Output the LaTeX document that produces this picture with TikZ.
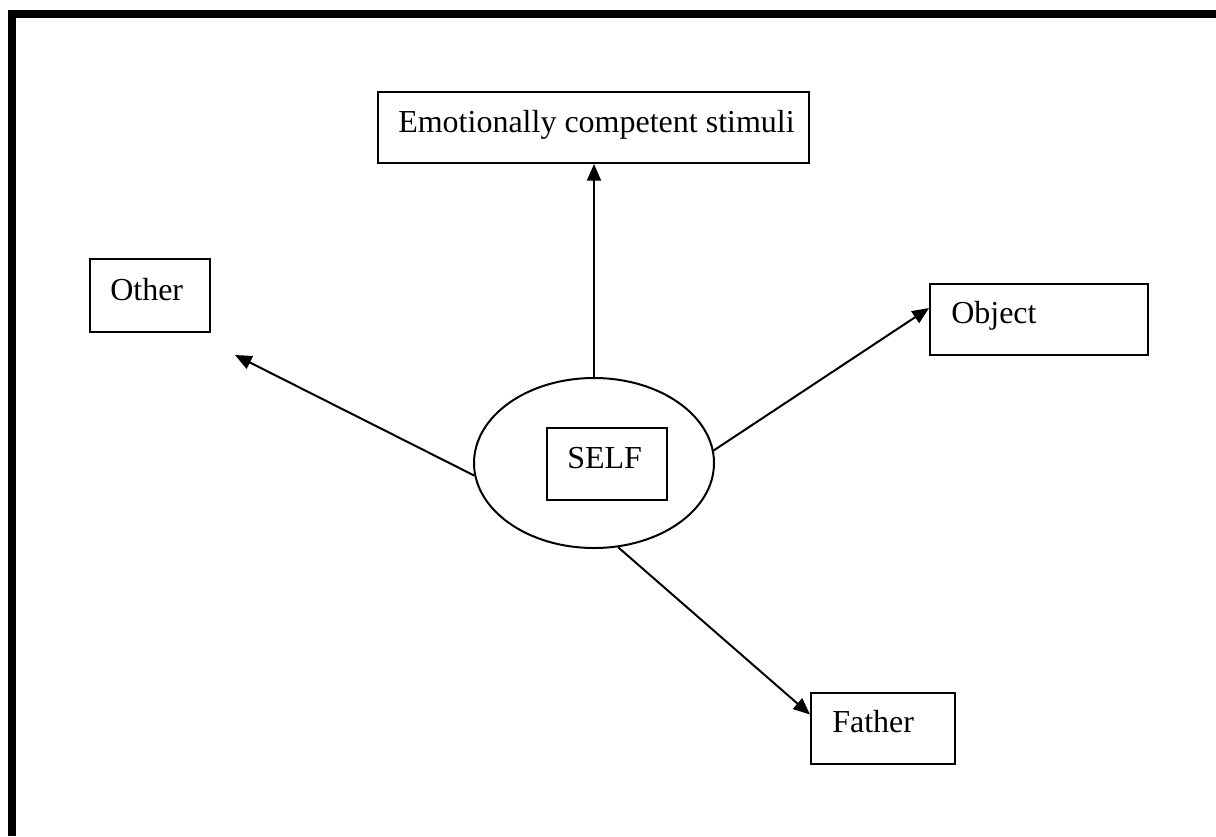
\documentclass[tikz,border=0pt]{standalone}
\usepackage{fontspec}
\setmainfont{Liberation Serif}
\usetikzlibrary{shapes.geometric,arrows.meta}
\begin{document}
\begin{tikzpicture}[x=0.75pt,y=-0.75pt,
  box/.style={draw,line width=1.5pt,rectangle,inner sep=0pt,anchor=north west},
  lbl/.style={anchor=base west,inner sep=0pt,font=\fontsize{24pt}{28pt}\selectfont},
  arr/.style={line width=1.5pt,-{Triangle[length=12.5pt,width=10.5pt]}},
  frame/.style={fill=black}]
\useasboundingbox (0,0) rectangle (1216,836);
\fill[white] (0,0) rectangle (1216,836);
% page frame
\path[frame] (8,10) rectangle (1216,18);
\path[frame] (8,10) rectangle (16,836);
% boxes
\node[box,minimum width=323.25pt,minimum height=53.25pt] (emo) at (377,91) {};
\node[box,minimum width=90pt,minimum height=54.75pt] (other) at (89,258) {};
\node[box,minimum width=163.5pt,minimum height=53.25pt] (obj) at (929,283) {};
\node[box,minimum width=108pt,minimum height=53.25pt] (father) at (810,692) {};
% self ellipse
\node[draw,ellipse,line width=1.5pt,minimum width=180pt,minimum height=127.5pt,inner sep=0pt] (self) at (594,463) {};
\node[box,minimum width=90pt,minimum height=54pt] (selfbox) at (546,427) {};
% labels
\node[lbl] (emot) at ([xshift=15.75pt,yshift=-30.75pt]emo.north west) {Emotionally competent stimuli};
\node[lbl] (othert) at ([xshift=15.75pt,yshift=-31.5pt]other.north west) {Other};
\node[lbl] (objt) at ([xshift=16.5pt,yshift=-30pt]obj.north west) {Object};
\node[lbl] (fathert) at ([xshift=16.5pt,yshift=-30pt]father.north west) {Father};
\node[lbl] (selft) at ([xshift=15.75pt,yshift=-30.75pt]selfbox.north west) {SELF};
% connectors
\coordinate (otherend) at (235,355);
\draw[arr] (self.north) -- (self.north |- emo.south);
\draw[arr] (self.186) -- (otherend);
\draw[arr] (self.6) -- ([yshift=8.6pt]obj.west);
\draw[arr] (self.-74) -- ([yshift=10.5pt]father.west);
\end{tikzpicture}
\end{document}
